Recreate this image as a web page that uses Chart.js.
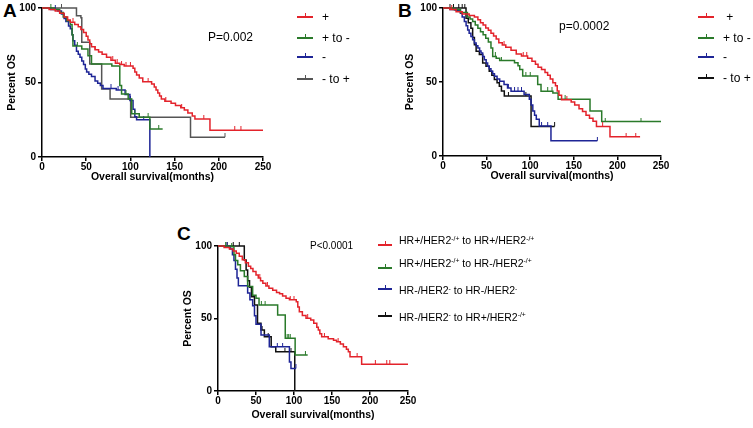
<!DOCTYPE html>
<html>
<head>
<meta charset="utf-8">
<script src="https://cdn.jsdelivr.net/npm/chart.js@4.4.1/dist/chart.umd.min.js"></script>
<style>
  body { margin: 0; background: #fff; width: 753px; height: 428px; position: relative; overflow: hidden;
         font-family: "Liberation Sans", Arial, sans-serif; color: #000; }
  canvas { position: absolute; }
  .txt { position: absolute; white-space: nowrap; }
  .panel { position: absolute; font-weight: bold; font-size: 19px; line-height: 1; }
  sup { font-size: 65%; vertical-align: 0; position: relative; top: -0.55em; }
</style>
</head>
<body>
<div class="panel" style="left:3px;top:1px">A</div>
<div class="panel" style="left:398px;top:1px">B</div>
<div class="panel" style="left:177px;top:224px">C</div>

<canvas id="chartA" width="280" height="183" style="left:0;top:0"></canvas>
<canvas id="chartB" width="277" height="182" style="left:401px;top:0"></canvas>
<canvas id="chartC" width="249" height="191" style="left:176px;top:230px"></canvas>

<script>
const red = '#e3232b', green = '#2a7a2a', blue = '#1e2596', grey = '#555555', black = '#111111';

// each curve: [months, percent OS] -- survival drops to the value at that month
// ---- Panel A ----
const aPlus = [[0,100],[8,99],[15,98],[20,96.5],[25,94],[29,92],[32,90.5],[37,89],[41,87.5],[44,85.5],[47,83.5],
  [50,81],[52,78.5],[54,76],[56,74],[60,72],[64,70.5],[68,69],[73,67],[78,65],[83,63],[88,62],[93,61],[103,59.5],
  [105,57],[107,55],[110,53],[114,50.5],[124,49],[127,47],[129,45],[131,43],[133,41],[135,39],[139,37.5],[146,36],
  [151,34.5],[157,33],[161,31.5],[165,29.5],[170,27.5],[173,25.5],[190,18],[250,18]];
const aPlusCens = [35, 60, 80, 85, 90, 95, 100, 120, 140, 158, 183, 218, 225];
const aPlusToMinus = [[0,100],[14,99],[20,97],[24,94],[28,91.5],[32,89],[34,82],[35,74.5],[45,72.5],[52,68],[56,62.4],
  [79,61],[88,48],[90,42.3],[97.5,39],[101.5,29],[110,26.7],[122,18.8],[136.5,18.8]];
const aPlusToMinusCens = [10, 40, 95, 105, 120, 132];
const aMinus = [[0,100],[10,99],[18,98],[22,96],[25,93],[27,91],[30,88],[32,86],[34,82],[35,78],[37,75],[39,71],[41,69],
  [43,67],[45,64.5],[47,62],[49,59],[50.5,57],[53,55.5],[56,54],[60,51],[63,49.5],[66,48],[69,46],[84,45],[94,42],
  [99.5,38],[103,32],[105,27],[107,25],[122,0]];
const aMinusCens = [15, 78, 86, 100, 115];
const aMinusToPlus = [[0,100],[39,94.8],[44,93.5],[45,77],[54,62.4],[67.5,45.6],[77,39],[100.3,26.6],[168,13.3],[207,13.3]];
const aMinusToPlusCens = [22, 207];

// ---- Panel B ----
const bPlus = [[0,100],[8,99],[15,97.5],[22,96],[30,95],[36,94],[40,92],[43,90],[46,88.5],[49,86.5],[52,85],[55,83],
  [58,81],[61,79],[64,76.5],[68,75],[72,73.5],[78,71.5],[84,69],[90,67.5],[97,66],[102,64],[106,62],[109,60],[113,58.5],
  [117,56.5],[120,54.5],[123,52],[126,49.5],[129,47.5],[131,44],[133,41],[136,38],[147,36.5],[151,34.5],[156,32],
  [160,30],[164,27.5],[168,25.5],[172,23.5],[176,20],[191.5,13],[226,13]];
const bPlusCens = [10, 70, 92, 96, 142, 160, 183, 210, 221];
const bPlusToMinus = [[0,100],[12,99],[20,97],[28,94],[31,92.5],[34,90.8],[37,88.5],[40,86.4],[43,84],[46,82],[49,79.5],
  [52,77],[55,73],[57,67.3],[61,66],[65,64.5],[82,63],[86,61],[88,58.4],[91.4,54],[108.6,48.3],[112.4,43.8],[126,42.5],
  [132,38.3],[168.6,30.4],[182,23.3],[250,23.3]];
const bPlusToMinusCens = [60, 67, 95, 100, 120, 125, 140, 186, 227];
const bMinus = [[0,100],[8,99],[14,98.5],[20,96.4],[22,94],[24.5,90.8],[26.5,88],[28.3,85.2],[30,83],[32,80.7],[34,78.5],
  [36,76.3],[38,74.5],[40,73],[42,71],[43.6,69.6],[45.5,67.3],[47.4,65.1],[49.5,62.8],[51.2,60.6],[53,59],[55,57.3],
  [57,55.5],[59,53.9],[62,52],[65,50.5],[70,48.3],[74,46],[78,43.8],[93,41.6],[99,38.3],[101,34.5],[103,30.4],[105,27.5],
  [107,24.8],[110.4,20.3],[123.8,10.3],[177,10.3]];
const bMinusCens = [75, 82, 86, 90, 113, 120, 177];
const bMinusToPlus = [[0,100],[26.4,93],[29,90],[32,86.4],[34,80],[36,75.2],[38,70.7],[41.7,68.5],[45.5,62.9],[49.3,60.6],
  [53,57.3],[56,54.5],[58.9,51.7],[62,49.5],[64.6,47.2],[67,44],[70.3,40.5],[101,20],[128,20]];
const bMinusToPlusCens = [8, 12, 18, 22, 25, 75, 95, 128];

// ---- Panel C ----
const cPosToPos = [[0,100],[8,99],[15,98],[20,96.5],[24,95],[28,93],[32,90.5],[36,88.5],[40,86],[43,84.5],[46,82.5],
  [50,80],[53,78],[56,76],[59,74.3],[63,72.5],[67,70.8],[72,69.5],[77,68],[81,67],[85,65.5],[89.5,64],[94,63],[103,61.6],
  [105,58],[107,54.7],[111,52],[115.8,50.1],[122,49],[126,46.7],[130,44],[132,42],[134,39.5],[136.4,37.5],[145,36],
  [152,35],[156,34],[161,32.5],[165,30.6],[169,28.8],[171.5,27.1],[173.7,23.7],[189,18.5],[250,18.5]];
const cPosToPosCens = [55, 65, 95, 100, 118, 140, 158, 183, 207, 222, 226];
const cPosToNeg = [[0,100],[18,99.5],[21,94],[23,90],[26,87],[29.5,83],[34.6,79],[39,72],[45.6,66],[50,64],[54,59.3],
  [78.5,52.5],[88.5,36.3],[101.5,24.8],[118,24.8]];
const cPosToNegCens = [10, 18, 57, 62, 91, 93, 95, 115];
const cNegToNeg = [[0,100],[16,98],[19,94],[21,90],[23,84],[25,78],[26.8,72.6],[39,67.6],[42,63],[45.6,58.8],[48,51.9],
  [50,46],[56.6,38.6],[67.5,30.6],[94,20],[96,15.6],[102.5,15.6]];
const cNegToNegCens = [12, 78, 85, 102.5];
const cNegToPos = [[0,100],[34.6,90.3],[37,83.4],[39,76],[41.5,71.5],[44,65],[48,59.3],[52,46.7],[56.5,42],[61,37.5],
  [70,30.6],[76,27],[101,0]];
const cNegToPosCens = [12, 20, 28, 58, 66, 88, 96];

const legendA = ['+', '+ to -', '-', '- to +'];
const legendB = ['&nbsp;+', '+ to -', '-', '- to +'];
const legendC = ['HR+/HER2<sup>-/+</sup> to HR+/HER2<sup>-/+</sup>', 'HR+/HER2<sup>-/+</sup> to HR-/HER2<sup>-/+</sup>',
  'HR-/HER2<sup>-</sup> to HR-/HER2<sup>-</sup>', 'HR-/HER2<sup>-</sup> to HR+/HER2<sup>-/+</sup>'];

function survAt(curve, t) {
  let v = curve[0][1];
  for (const p of curve) if (p[0] <= t) v = p[1];
  return v;
}

function tickImg(color) {
  const c = document.createElement('canvas');
  c.width = 3; c.height = 8;
  const g = c.getContext('2d');
  g.fillStyle = color;
  g.fillRect(1, 0, 1, 4);
  return c;
}

function makeKM(id, series, cfg) {
  const datasets = [];
  series.forEach(s => {
    datasets.push({ data: s.curve.map(p => ({ x: p[0], y: p[1] })), showLine: true, stepped: true,
      borderColor: s.color, borderWidth: 1.5, pointRadius: 0, clip: false });
    datasets.push({ data: s.cens.map(t => ({ x: t, y: survAt(s.curve, t) })), showLine: false,
      pointStyle: tickImg(s.color), pointRadius: 3, clip: false });
  });
  const tickFont = { family: 'Liberation Sans', size: 10, weight: 'bold' };
  const titleFont = { family: 'Liberation Sans', size: 10.5, weight: 'bold' };
  const grid = { drawOnChartArea: false, color: '#000', lineWidth: 1.5, tickLength: 4 };
  new Chart(document.getElementById(id), {
    type: 'scatter',
    data: { datasets },
    options: {
      responsive: false, animation: false, devicePixelRatio: 1,
      layout: { padding: { left: 0, top: cfg.top, right: 17, bottom: 0 } },
      plugins: { legend: { display: false }, tooltip: { enabled: false } },
      scales: {
        x: { type: 'linear', min: 0, max: 250,
          ticks: { stepSize: 50, autoSkip: false, maxRotation: 0, font: tickFont, color: '#000', padding: 0 },
          grid, border: { color: '#000', width: 1.5 },
          title: { display: true, text: 'Overall survival(months)', font: titleFont, color: '#000', padding: 0 },
          afterFit(s) { s.height = cfg.xh; } },
        y: { min: 0, max: 100,
          ticks: { stepSize: 50, font: tickFont, color: '#000', padding: 2 },
          grid, border: { color: '#000', width: 1.5 },
          title: { display: true, text: 'Percent OS', font: titleFont, color: '#000', padding: { top: cfg.tp, bottom: 0 } },
          afterFit(s) { s.width = 42; } }
      }
    }
  });
}

function addText(html, left, top, size, lh) {
  const d = document.createElement('div');
  d.className = 'txt';
  d.style.left = left + 'px';
  d.style.top = top + 'px';
  d.style.fontSize = size + 'px';
  d.style.lineHeight = lh + 'px';
  d.innerHTML = html;
  document.body.appendChild(d);
}

function addLegend(labels, colors, x0, x1, lineYs, textX, textYs, size) {
  labels.forEach((lab, i) => {
    const y = Math.round(lineYs[i]);
    const line = document.createElement('div');
    line.style.cssText = `position:absolute;left:${x0}px;top:${y - 1}px;width:${x1 - x0}px;height:2px;background:${colors[i]}`;
    const tk = document.createElement('div');
    tk.style.cssText = `position:absolute;left:${Math.round((x0 + x1) / 2)}px;top:${y - 4}px;width:1px;height:4px;background:${colors[i]}`;
    document.body.appendChild(line);
    document.body.appendChild(tk);
    addText(lab, textX, textYs[i] - size * 0.6, size, size * 1.2);
  });
}

makeKM('chartA', [
  { curve: aPlus, cens: aPlusCens, color: red },
  { curve: aPlusToMinus, cens: aPlusToMinusCens, color: green },
  { curve: aMinus, cens: aMinusCens, color: blue },
  { curve: aMinusToPlus, cens: aMinusToPlusCens, color: grey }
], { top: 8, xh: 26, tp: 6 });

makeKM('chartB', [
  { curve: bPlus, cens: bPlusCens, color: red },
  { curve: bPlusToMinus, cens: bPlusToMinusCens, color: green },
  { curve: bMinus, cens: bMinusCens, color: blue },
  { curve: bMinusToPlus, cens: bMinusToPlusCens, color: black }
], { top: 7, xh: 26, tp: 3 });

makeKM('chartC', [
  { curve: cPosToPos, cens: cPosToPosCens, color: red },
  { curve: cPosToNeg, cens: cPosToNegCens, color: green },
  { curve: cNegToNeg, cens: cNegToNegCens, color: blue },
  { curve: cNegToPos, cens: cNegToPosCens, color: black }
], { top: 16, xh: 30, tp: 6 });

addText('P=0.002', 208, 30, 12, 14);
addText('p=0.0002', 559, 19, 12, 14);
addText('P&lt;0.0001', 310, 240, 10, 12);

addLegend(legendA, [red, green, blue, grey], 297, 313, [17.3, 37.7, 57.3, 78.7], 322, [17.3, 37.7, 57.3, 78.7], 12);
addLegend(legendB, [red, green, blue, black], 698, 714, [17, 38, 57, 78], 723, [17, 38, 57, 78], 12);
addLegend(legendC, [red, green, blue, black], 378, 392, [245, 268, 289, 316], 399, [240.7, 263, 290.7, 317], 10.5);
</script>
</body>
</html>
